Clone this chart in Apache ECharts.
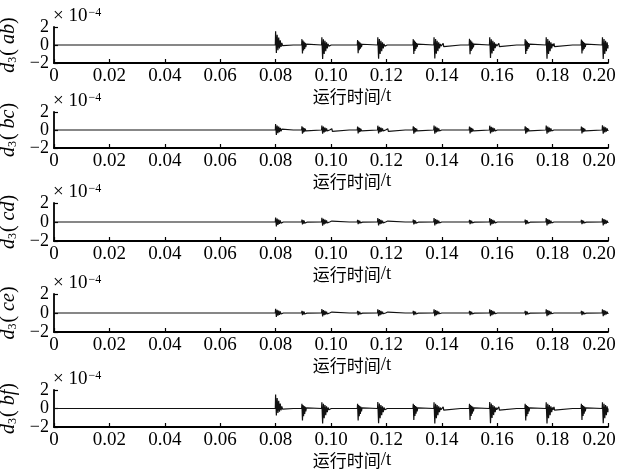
<!DOCTYPE html>
<html>
<head>
<meta charset="utf-8">
<script src="https://cdn.jsdelivr.net/npm/echarts@6/dist/echarts.min.js"></script>
<style>html,body{margin:0;padding:0;background:#fff}#c{width:619px;height:470px}</style>
</head>
<body>
<div id="c"></div>
<script>
// ---- data (units of 1e-4) ----
const xTicks = [0, 0.02, 0.04, 0.06, 0.08, 0.10, 0.12, 0.14, 0.16, 0.18, 0.20];
const yTicks = [-2, 0, 2];
const panelNames = ['ab', 'bc', 'cd', 'ce', 'bf'];
// burst instants (s)
const tMain = [0.0800, 0.0967, 0.1169, 0.1372, 0.1573, 0.1777, 0.1980];
const tSec  = [0.0895, 0.1096, 0.1297, 0.1500, 0.1701, 0.1904];
const tDot  = [0.0866, 0.1003, 0.1068, 0.1205, 0.1270, 0.1405, 0.1470, 0.1606, 0.1672, 0.1805, 0.1874, 0.2002];
// per-panel peak values of each burst
const abMainUp   = [1.52, 0.85, 0.87, 0.87, 0.85, 0.87, 0.87];
const abMainDown = [-0.88, -1.55, -1.53, -1.50, -1.45, -1.53, -1.55];
const abSecUp    = [0.65, 0.55, 0.65, 0.69, 0.65, 0.62];
const abSecDown  = [-0.95, -0.90, -1.00, -1.03, -1.00, -0.95];
const abDot      = [0.22, 0.18, 0.20, 0.18, 0.20, 0.18, 0.20, 0.18, 0.20, 0.18, 0.20, 0.25];

const bcMainUp   = [0.67, 0.50, 0.48, 0.50, 0.48, 0.50, 0.52];
const bcMainDown = [-0.55, -0.40, -0.38, -0.40, -0.38, -0.40, -0.42];
const bcSecUp    = [0.40, 0.38, 0.40, 0.38, 0.40, 0.38];
const bcSecDown  = [-0.40, -0.38, -0.40, -0.38, -0.40, -0.38];
const bcDot      = [0.18, 0.15, 0.18, 0.15, 0.18, 0.15, 0.18, 0.15, 0.18, 0.15, 0.18, 0.20];

const cdMainUp   = [0.48, 0.45, 0.42, 0.42, 0.42, 0.42, 0.40];
const cdMainDown = [-0.46, -0.38, -0.36, -0.36, -0.36, -0.36, -0.36];
const cdSecUp    = [0.25, 0.22, 0.25, 0.22, 0.25, 0.22];
const cdSecDown  = [-0.25, -0.22, -0.25, -0.22, -0.25, -0.22];
const cdDot      = [0.12, 0.10, 0.12, 0.10, 0.12, 0.10, 0.12, 0.10, 0.12, 0.10, 0.12, 0.12];

const ceMainUp   = [0.45, 0.42, 0.40, 0.40, 0.40, 0.40, 0.40];
const ceMainDown = [-0.42, -0.36, -0.34, -0.34, -0.34, -0.34, -0.34];
const ceSecUp    = [0.24, 0.22, 0.24, 0.22, 0.24, 0.22];
const ceSecDown  = [-0.24, -0.22, -0.24, -0.22, -0.24, -0.22];
const ceDot      = [0.12, 0.10, 0.12, 0.10, 0.12, 0.10, 0.12, 0.10, 0.12, 0.10, 0.12, 0.12];

const bfMainUp   = [1.50, 0.68, 0.70, 0.68, 0.70, 0.68, 0.68];
const bfMainDown = [-0.76, -1.62, -1.60, -1.62, -1.58, -1.62, -1.60];
const bfSecUp    = [0.50, 0.50, 0.50, 0.50, 0.50, 0.50];
const bfSecDown  = [-1.30, -1.30, -1.25, -1.25, -1.30, -1.25];
const bfDot      = [0.20, 0.18, 0.20, 0.18, 0.20, 0.18, 0.20, 0.18, 0.20, 0.18, 0.20, 0.22];

const panels = [
  [abMainUp, abMainDown, abSecUp, abSecDown, abDot],
  [bcMainUp, bcMainDown, bcSecUp, bcSecDown, bcDot],
  [cdMainUp, cdMainDown, cdSecUp, cdSecDown, cdDot],
  [ceMainUp, ceMainDown, ceSecUp, ceSecDown, ceDot],
  [bfMainUp, bfMainDown, bfSecUp, bfSecDown, bfDot]
];
// ringing envelope after each burst's first swing
const ring = [0.75, 0.65, 0.55, 0.45, 0.35, 0.25, 0.15, 0.08];

function burst(pts, t, up, down, dt) {
  pts.push([t - 0.0001, 0], [t, up], [t + dt, down]);
  ring.forEach(function (r, k) {
    pts.push([t + dt * (k + 2), (k % 2 === 0 ? up : down) * r]);
  });
  pts.push([t + dt * (ring.length + 2), 0]);
}
function buildSeries(p) {
  const pts = [[0, 0]];
  const ev = [];
  tMain.forEach(function (t, i) { ev.push([t, p[0][i], p[1][i], 0.00028]); });
  tSec.forEach(function (t, i) { ev.push([t, p[2][i], p[3][i], 0.0002]); });
  tDot.forEach(function (t, i) { ev.push([t, p[4][i], -p[4][i], 0]); });
  ev.sort(function (a, b) { return a[0] - b[0]; });
  ev.forEach(function (e) {
    if (e[3] === 0) {
      pts.push([e[0] - 0.0002, 0], [e[0], e[1]], [e[0] + 0.0002, e[2]], [e[0] + 0.0004, 0]);
    } else {
      burst(pts, e[0], e[1], e[2], e[3]);
    }
  });
  pts.push([0.2, 0]);
  return pts.filter(function (q) { return q[0] <= 0.2; });
}

// ---- layout ----
const tops = [27, 112, 203, 294, 390];
const heights = [36, 36, 38, 38, 37];
const serif = 'Liberation Serif';
const chart = echarts.init(document.getElementById('c'), null, { renderer: 'canvas' });
const grids = [], xAxes = [], yAxes = [], series = [], graphics = [];
panelNames.forEach(function (nm, i) {
  grids.push({ left: 54, right: 11, top: tops[i], height: heights[i], containLabel: false, outerBoundsMode: 'none' });
  xAxes.push({
    type: 'value', gridIndex: i, min: 0, max: 0.2, interval: 0.02,
    axisLine: { onZero: false, lineStyle: { color: '#000', width: 1.8 } },
    axisTick: { inside: true, length: 4, lineStyle: { color: '#000', width: 1.2 } },
    splitLine: { show: false },
    axisLabel: {
      margin: 4, color: '#000', fontFamily: serif, fontSize: 19, hideOverlap: false,
      formatter: function (v) {
        if (Math.abs(v) < 1e-9) return '0';
        if (Math.abs(v - 0.2) < 1e-9) return '{last|0.20}';
        return v.toFixed(2);
      },
      rich: { last: { fontFamily: serif, fontSize: 19, color: '#000', padding: [0, 18, 0, 0] } }
    },
    name: '{c|运行时间}{l|/t}', nameLocation: 'middle', nameGap: 22,
    nameTextStyle: {
      padding: [0, 0, 0, 42],
      rich: {
        c: { fontFamily: 'Noto Sans CJK SC', fontSize: 17, color: '#000' },
        l: { fontFamily: serif, fontSize: 19, color: '#000' }
      }
    }
  });
  yAxes.push({
    type: 'value', gridIndex: i, min: -2, max: 2, interval: 2,
    axisLine: { show: true, onZero: false, lineStyle: { color: '#000', width: 1.8 } },
    axisTick: { show: true, inside: true, length: 4, lineStyle: { color: '#000', width: 1.2 } },
    splitLine: { show: false },
    axisLabel: {
      margin: 5, color: '#000', fontFamily: serif, fontSize: 18,
      showMinLabel: true, showMaxLabel: true,
      formatter: function (v) { return String(v).replace('-', '\u2212'); }
    },
    name: '{i|d}{s|3}{n|( }{i|' + nm + '}{n|)}', nameLocation: 'middle', nameRotate: 90, nameGap: 28,
    nameTextStyle: {
      rich: {
        i: { fontFamily: serif, fontStyle: 'italic', fontSize: 20, color: '#000' },
        n: { fontFamily: serif, fontSize: 20, color: '#000' },
        s: { fontFamily: serif, fontSize: 12, color: '#000', verticalAlign: 'bottom', padding: [9, 1, 0, 0] }
      }
    }
  });
  series.push({
    type: 'line', xAxisIndex: i, yAxisIndex: i, data: buildSeries(panels[i]),
    symbol: 'none', animation: false,
    lineStyle: { color: '#111', width: 1.2 }
  });
  graphics.push({
    type: 'text', left: 53, top: tops[i] - 20,
    style: {
      text: '{n|\u00d7 10}{s|\u22124}',
      rich: {
        n: { fontFamily: serif, fontSize: 19, fill: '#000' },
        s: { fontFamily: serif, fontSize: 12, fill: '#000', verticalAlign: 'top', padding: [0, 0, 7, 1] }
      }
    }
  });
});

chart.setOption({
  animation: false,
  backgroundColor: '#fff',
  grid: grids, xAxis: xAxes, yAxis: yAxes, series: series,
  graphic: graphics
});
</script>
</body>
</html>
